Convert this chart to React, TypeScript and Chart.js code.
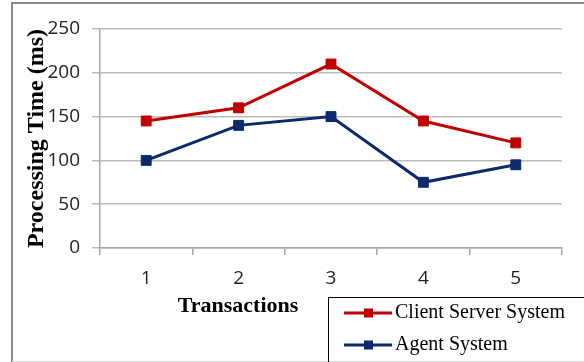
import React, { useEffect, useRef } from "react";
import { Chart, registerables } from "chart.js";

Chart.register(...registerables);

const categories = ["1", "2", "3", "4", "5"];
const clientServer = [145, 160, 210, 145, 120];
const agentSystem = [100, 140, 150, 75, 95];
const seriesNames = ["Client Server System", "Agent System"];
const xTitle = "Transactions";
const yTitle = "Processing Time (ms)";

const RED = "#C00000";
const BLUE = "#0B2A6B";
const SERIF = "'Liberation Serif', 'Times New Roman', serif";
const SANS = "'Open Sans', 'Liberation Sans', sans-serif";

const decorPlugin = {
  id: "decor",
  beforeDraw(chart: any) {
    const ctx = chart.ctx;
    ctx.save();
    ctx.fillStyle = "#fff";
    ctx.fillRect(0, 0, chart.width, chart.height);
    ctx.strokeStyle = "#8a8a8a";
    ctx.lineWidth = 2;
    ctx.beginPath();
    ctx.moveTo(12, 362);
    ctx.lineTo(12, 3);
    ctx.lineTo(584, 3);
    ctx.stroke();
    ctx.strokeStyle = "#d4d4d4";
    ctx.lineWidth = 1;
    ctx.beginPath();
    ctx.moveTo(12, 361.5);
    ctx.lineTo(584, 361.5);
    ctx.stroke();
    ctx.restore();
  },
  afterDraw(chart: any) {
    const ctx = chart.ctx;
    ctx.save();
    // x axis title
    ctx.fillStyle = "#000";
    ctx.font = `bold 22px ${SERIF}`;
    ctx.textAlign = "center";
    ctx.textBaseline = "middle";
    ctx.fillText(xTitle, 238, 306);
    // legend box
    ctx.strokeStyle = "#000";
    ctx.lineWidth = 1;
    ctx.strokeRect(328.5, 297.5, 300, 100);
    const ys = [313, 345];
    chart.data.datasets.forEach((ds: any, i: number) => {
      const y = ys[i];
      ctx.strokeStyle = ds.borderColor;
      ctx.lineWidth = 3;
      ctx.beginPath();
      ctx.moveTo(344, y);
      ctx.lineTo(392, y);
      ctx.stroke();
      ctx.fillStyle = ds.borderColor;
      ctx.fillRect(364, y - 4.5, 9, 9);
      ctx.fillStyle = "#000";
      ctx.font = `20px ${SERIF}`;
      ctx.textAlign = "left";
      ctx.textBaseline = "middle";
      ctx.fillText(ds.label, 395, y);
    });
    ctx.restore();
  },
};

export default function App() {
  const ref = useRef<HTMLCanvasElement | null>(null);
  useEffect(() => {
    document.body.style.margin = "0";
    const canvas = ref.current!;
    const chart = new Chart(canvas, {
      type: "line",
      data: {
        labels: categories,
        datasets: [
          {
            label: seriesNames[0],
            data: clientServer,
            borderColor: RED,
            backgroundColor: RED,
            borderWidth: 3,
            pointStyle: "rect",
            pointRadius: 7,
            pointBorderWidth: 1,
            pointBackgroundColor: RED,
            pointBorderColor: RED,
            tension: 0,
          },
          {
            label: seriesNames[1],
            data: agentSystem,
            borderColor: BLUE,
            backgroundColor: BLUE,
            borderWidth: 3,
            pointStyle: "rect",
            pointRadius: 7,
            pointBorderWidth: 1,
            pointBackgroundColor: BLUE,
            pointBorderColor: BLUE,
            tension: 0,
          },
        ],
      },
      options: {
        animation: false,
        responsive: false,
        devicePixelRatio: 1,
        layout: { padding: { top: 29, right: 22, left: 0, bottom: 0 } },
        plugins: {
          legend: { display: false },
          tooltip: { enabled: false },
        },
        scales: {
          x: {
            type: "category",
            offset: true,
            grid: {
              offset: true,
              drawOnChartArea: false,
              drawTicks: true,
              tickLength: 7,
              color: "#a6a6a6",
              lineWidth: 1.5,
            },
            border: { color: "#a6a6a6", width: 1.5 },
            ticks: {
              color: "#222",
              font: { family: SANS, size: 19 },
              padding: 12,
            },
            afterFit(scale: any) {
              scale.height = 362 - 248;
            },
          },
          y: {
            min: 0,
            max: 250,
            ticks: {
              stepSize: 50,
              color: "#222",
              font: { family: SANS, size: 19 },
              padding: 12,
            },
            grid: {
              color: "#bdbdbd",
              lineWidth: 1.5,
              tickLength: 8,
            },
            border: { color: "#a6a6a6", width: 1.5 },
            title: {
              display: true,
              text: yTitle,
              color: "#000",
              font: { family: SERIF, size: 24, weight: "bold" },
              padding: { top: 22, bottom: 0 },
            },
            afterFit(scale: any) {
              scale.width = 100;
            },
          },
        },
      },
      plugins: [decorPlugin],
    } as any);
    return () => chart.destroy();
  }, []);
  return <canvas ref={ref} width={584} height={362} style={{ display: "block" }} />;
}
